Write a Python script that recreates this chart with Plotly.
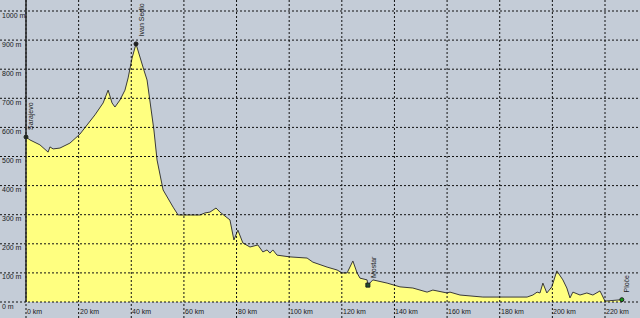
import plotly.graph_objects as go

# Elevation profile (km, m)
dist_km = [0, 1.5, 5.3, 8.4, 9.1, 10.3, 12.9, 16.7, 20.5, 22.4, 26.2, 29.3, 31.2, 32.7, 33.8,
           35.7, 37.6, 38.8, 40.3, 41.8, 43.3, 44.8, 46.0, 47.1, 48.6, 49.8, 52.1, 55.9, 57.8,
           62.3, 66.1, 68.0, 69.9, 72.2, 73.7, 77.5, 79.0, 80.5, 82.4, 85.1, 88.1, 90.0, 91.6,
           92.7, 93.8, 95.4, 100.3, 106.8, 109.0, 114.4, 118.2, 120.1, 122.0, 124.2, 125.8,
           126.9, 129.6, 129.9, 131.8, 137.2, 142.1, 147.0, 152.4, 154.6, 160.0, 161.1, 164.9,
           173.6, 180.1, 190.4, 192.6, 194.2, 195.3, 196.4, 197.9, 199.8, 201.7, 202.9, 204.0,
           205.5, 206.7, 207.8, 210.5, 213.1, 215.4, 218.1, 219.2, 220.0, 226.4]
elev_m = [567, 557, 540, 515, 533, 526, 529, 546, 577, 598, 643, 684, 728, 684, 670,
          694, 728, 770, 838, 887, 838, 797, 763, 694, 591, 488, 385, 326, 299,
          299, 299, 306, 309, 323, 309, 282, 213, 247, 203, 189, 196, 172, 179,
          168, 179, 161, 155, 151, 137, 120, 110, 100, 100, 141, 100,
          82, 76, 58, 76, 65, 52, 48, 34, 41, 31, 34, 24,
          17, 17, 17, 24, 34, 31, 65, 31, 52, 107, 93, 76,
          48, 14, 34, 24, 31, 24, 38, 17, 3, 8]

# Named places
place_names = ["Sarajevo", "Ivan Sedlo", "Mostar", "Ploče"]
place_km = [0, 41.8, 129.9, 226.4]
place_elev = [567, 887, 58, 8]
place_colors = ["#1f3d1f", "#202020", "#1f4d2a", "#119911"]
place_symbols = ["circle", "circle", "square", "circle"]

x_ticks = [0, 20, 40, 60, 80, 100, 120, 140, 160, 180, 200, 220]
x_tick_text = ["0 km", "20 km", "40 km", "60 km", "80 km", "100 km", "120 km",
               "140 km", "160 km", "180 km", "200 km", "220 km"]
y_ticks = [0, 100, 200, 300, 400, 500, 600, 700, 800, 900, 1000]
y_tick_text = ["0 m", "100 m", "200 m", "300 m", "400 m", "500 m", "600 m",
               "700 m", "800 m", "900 m", "1000 m"]

BG = "#c4ccd7"
FILL = "#ffff80"
FONT = "Liberation Sans"

fig = go.Figure()
fig.add_trace(go.Scatter(x=dist_km, y=elev_m, mode="lines", fill="tozeroy",
                         fillcolor=FILL, line=dict(color="#3a3a3a", width=1),
                         hoverinfo="skip", showlegend=False))
fig.add_trace(go.Scatter(x=place_km, y=place_elev, mode="markers",
                         marker=dict(size=4, color=place_colors, symbol=place_symbols,
                                     line=dict(color="#202020", width=1)),
                         hoverinfo="skip", showlegend=False))

shapes = []
for xv in x_ticks:
    shapes.append(dict(type="line", xref="x", yref="paper", x0=xv, x1=xv, y0=0, y1=1,
                       line=dict(color="#111111", width=1, dash="2px,2px"), layer="above"))
for yv in y_ticks:
    shapes.append(dict(type="line", xref="paper", yref="y", x0=0, x1=1, y0=yv, y1=yv,
                       line=dict(color="#111111", width=1, dash="2px,2px"), layer="above"))
# solid vertical axis line at 0 km
shapes.append(dict(type="line", xref="x", yref="paper", x0=x_ticks[0], x1=x_ticks[0],
                   y0=16 / 318, y1=1, line=dict(color="#222222", width=1.5), layer="above"))

annotations = []
for xv, t in zip(x_ticks, x_tick_text):
    annotations.append(dict(x=xv, y=0, xref="x", yref="paper", text=t, showarrow=False,
                            xanchor="left", yanchor="bottom", yshift=1, xshift=-1,
                            font=dict(family=FONT, size=7, color="#202020")))
for yv, t in zip(y_ticks, y_tick_text):
    annotations.append(dict(x=0, y=yv, xref="paper", yref="y", text=t, showarrow=False,
                            xanchor="left", yanchor="middle", yshift=-4, xshift=0,
                            font=dict(family=FONT, size=7, color="#202020")))
for name, xv, yv in zip(place_names, place_km, place_elev):
    annotations.append(dict(x=xv, y=yv, xref="x", yref="y", text=name, showarrow=False,
                            textangle=-90, xanchor="center", yanchor="bottom",
                            xshift=5, yshift=5,
                            font=dict(family=FONT, size=7, color="#202020")))

px_per_km = 614 / 233.3
fig.update_layout(
    width=640, height=318,
    margin=dict(l=0, r=0, t=0, b=0),
    paper_bgcolor=BG, plot_bgcolor=BG,
    xaxis=dict(range=[-26 / px_per_km, 233.3], showgrid=False, zeroline=False,
               showticklabels=False, ticks="", fixedrange=True),
    yaxis=dict(range=[-16 / 0.291, 302 / 0.291], showgrid=False, zeroline=False,
               showticklabels=False, ticks="", fixedrange=True),
    shapes=shapes, annotations=annotations, showlegend=False,
)

fig.write_html("out.html")
